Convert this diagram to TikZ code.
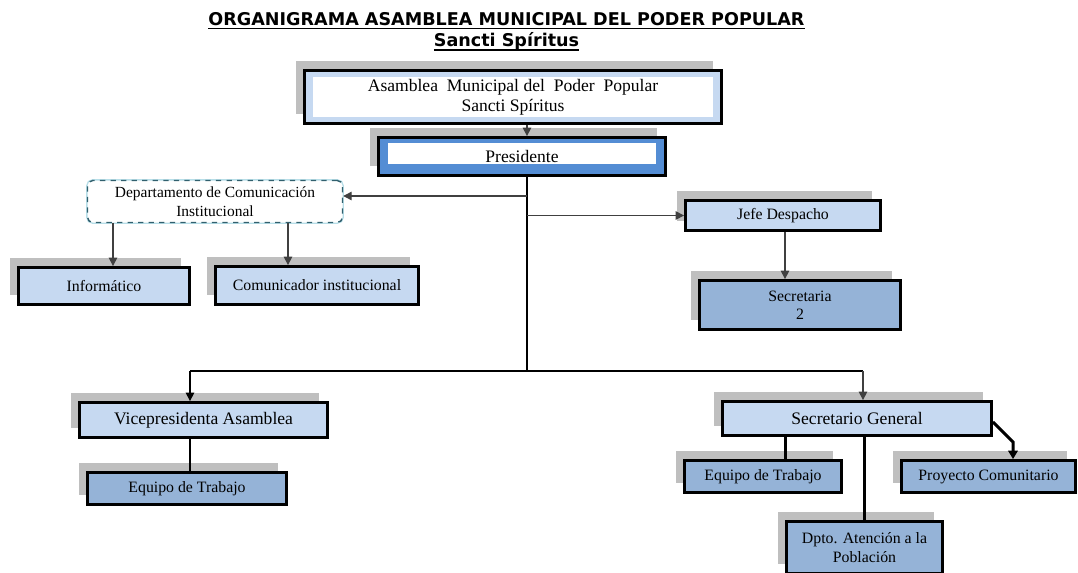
\documentclass[tikz,border=0pt]{standalone}
\usepackage{fontspec}
\setmainfont{Liberation Serif}
\newfontfamily\titlefont{DejaVu Sans}
\newcommand\ulbar[1]{\setbox0\hbox{#1}\rlap{\rule[-2.3pt]{\wd0}{0.9pt}}\box0}
\usetikzlibrary{arrows.meta}
\usetikzlibrary{shadows}
\usetikzlibrary{calc}
\definecolor{litebox}{RGB}{198,217,241}
\definecolor{darkbox}{RGB}{149,179,215}
\definecolor{presblue}{RGB}{84,141,212}
\definecolor{shade}{RGB}{191,191,191}
\definecolor{arrgray}{RGB}{64,64,64}
\definecolor{depline}{RGB}{49,96,110}
\definecolor{deplite}{RGB}{183,222,232}

\begin{document}
\begin{tikzpicture}[>={Triangle[length=1.7mm,width=1.7mm]},
  unit/.style={draw, line width=1.6pt, inner sep=1pt, align=center, font=\fontsize{9}{10.5}\selectfont,
    drop shadow={shadow xshift=-0.18cm, shadow yshift=0.19cm, fill=shade, opacity=1}},
  lite/.style={unit, fill=litebox},
  dark/.style={unit, fill=darkbox},
  big/.style={font=\fontsize{10}{11.5}\selectfont},
  whitein/.style 2 args={path picture={\fill[white] ([shift={(#1)}]path picture bounding box.south west) rectangle ([shift={(#2)}]path picture bounding box.north east);}},
  dept/.style={draw=depline, dashed, line width=0.8pt, rounded corners=3pt, fill=white, align=center,
    font=\fontsize{8.8}{10.5}\selectfont, preaction={draw=deplite, line width=1.6pt, solid}},
  link/.style={draw=arrgray, line width=0.7pt, ->},
  trunk/.style={draw=black, line width=1.7pt},
  thickarr/.style={draw=black, line width=1.7pt, -{Triangle[length=1.7mm,width=1.9mm]}}]
\useasboundingbox (0,0) rectangle (21.56,-11.46);

\node[font=\titlefont\bfseries\fontsize{10}{12}\selectfont, align=center] (title) at (10.13,-0.63)
  {\ulbar{ORGANIGRAMA ASAMBLEA MUNICIPAL DEL PODER POPULAR}\\\ulbar{Sancti Spíritus}};

\node[lite, big, whitein={0.17,0.13}{-0.17,-0.13}, minimum width=8.34cm, minimum height=1.06cm] (asm) at (10.26,-1.94)
  {Asamblea~ Municipal del~ Poder~ Popular\\Sancti Spíritus};
\node[unit, big, fill=presblue, whitein={0.19,0.23}{-0.19,-0.11}, minimum width=5.74cm, minimum height=0.76cm] (pres) at (10.44,-3.13) {Presidente};
\node[dept, minimum width=5.1cm, minimum height=0.84cm] (dep) at (4.30,-4.03) {Departamento de Comunicación\\Institucional};
\node[lite, minimum width=3.42cm, minimum height=0.74cm] (inf) at (2.08,-5.72) {Informático};
\node[lite, minimum width=4.06cm, minimum height=0.76cm] (com) at (6.34,-5.71) {Comunicador institucional};
\node[lite, minimum width=3.9cm, minimum height=0.6cm] (jefe) at (15.66,-4.31) {Jefe Despacho};
\node[dark, minimum width=4.02cm, minimum height=0.98cm] (sec2) at (16.0,-6.10) {Secretaria\\2};
\node[lite, big, minimum width=4.96cm, minimum height=0.70cm] (vice) at (4.07,-8.40) {Vicepresidenta Asamblea};
\node[dark, minimum width=3.98cm, minimum height=0.64cm] (eq1) at (3.74,-9.77) {Equipo de Trabajo};
\node[lite, big, minimum width=5.38cm, minimum height=0.68cm] (sg) at (17.14,-8.37) {Secretario General};
\node[dark, minimum width=3.14cm, minimum height=0.64cm] (eq2) at (15.26,-9.53) {Equipo de Trabajo};
\node[dark, minimum width=3.48cm, minimum height=0.64cm] (pc) at (19.77,-9.53) {Proyecto Comunitario};
\node[dark, minimum width=3.12cm, minimum height=1.04cm] (dpto) at (17.29,-10.95) {Dpto. Atención a la\\Población};

\coordinate (hub) at (10.54,-7.42);
\coordinate (hl) at (3.80,-7.42);
\coordinate (hr) at (17.26,-7.42);
\coordinate (bd) at (10.54,-3.92);
\coordinate (knee) at (20.26,-8.84);

\draw[link] (asm.south -| hub) -- (pres.north -| hub);
\draw[trunk] (pres.south -| hub) -- (hub);
\draw[trunk] (hl) -- (hr);
\draw[link, draw=black] (hl) -- (vice.north -| hl);
\draw[link] (hr) -- (sg.north -| hr);
\draw[link] (bd) -- (dep.east |- bd);
\draw[link] (jefe.west -| hub) -- (jefe.west);
\draw[link] ([xshift=0.18cm]inf.north |- dep.south) -- ([xshift=0.18cm]inf.north);
\draw[link] ([xshift=-0.58cm]com.north |- dep.south) -- ([xshift=-0.58cm]com.north);
\draw[link] ([xshift=0.04cm]jefe.south) -- ([xshift=0.04cm]jefe.south |- sec2.north);
\draw[trunk] (vice.south -| hl) -- (eq1.north -| hl);
\draw[trunk] ([xshift=0.44cm]eq2.north |- sg.south) -- ([xshift=0.44cm]eq2.north);
\draw[trunk] (sg.south -| dpto.north) -- (dpto.north);
\draw[thickarr] ([yshift=-0.07cm]sg.east) -- (knee) -- (knee |- pc.north);
\end{tikzpicture}
\end{document}
